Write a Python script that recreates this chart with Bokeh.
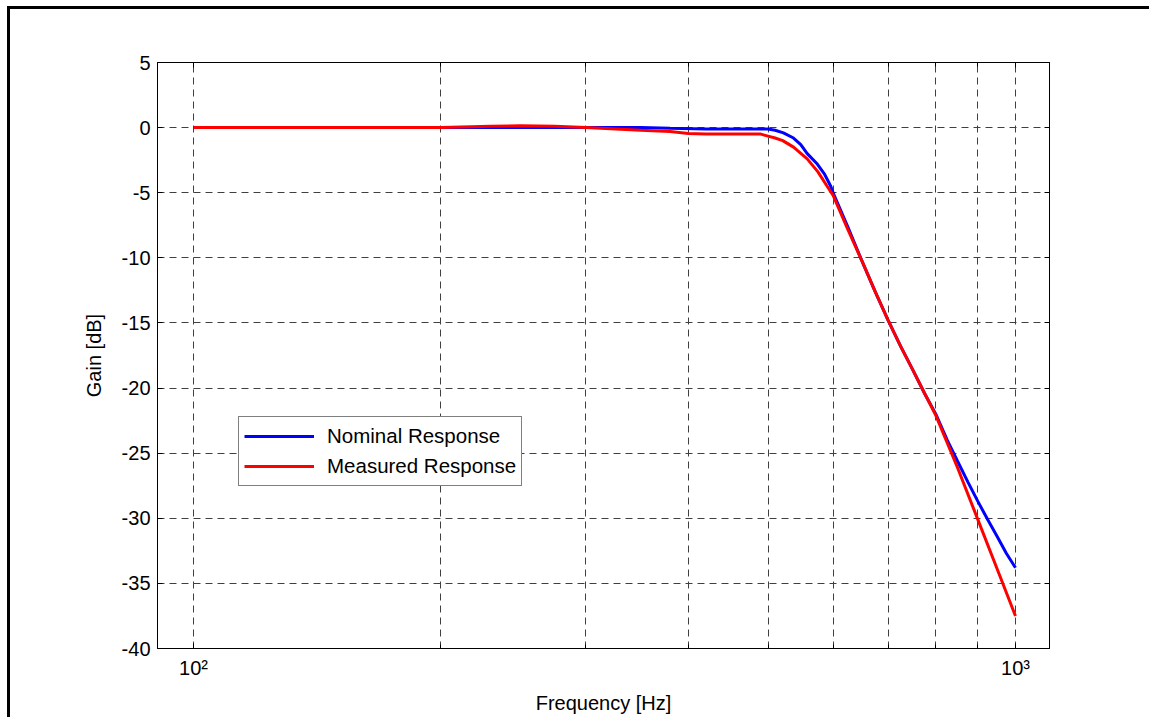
from bokeh.plotting import figure
from bokeh.models import FixedTicker, LogAxis, LinearAxis, Legend, LegendItem
from bokeh.embed import file_html
from bokeh.resources import INLINE

# ---- data ----
nominal_freq = [100, 150, 200, 250, 300, 350, 380, 420, 460, 500, 510, 522, 537,
                548, 558, 574, 586, 596, 600, 625, 650, 675, 700, 725, 750, 775,
                800, 826, 850, 875, 900, 925, 950, 975, 1000]
nominal_gain = [0.0, 0.0, 0.0, 0.0, 0.0, 0.0, -0.05, -0.1, -0.1, -0.1, -0.2, -0.4, -0.8,
                -1.3, -2.0, -2.8, -3.6, -4.5, -5.0, -7.6, -10.2, -12.6, -14.8, -16.8, -18.6, -20.4,
                -22.0, -24.0, -25.6, -27.2, -28.7, -30.1, -31.4, -32.7, -33.8]

measured_freq = [100, 150, 200, 230, 250, 275, 300, 350, 380, 400, 420, 460, 490, 500,
                 510, 521, 537, 558, 575, 590, 600, 625, 650, 675, 700, 725, 750, 775,
                 800, 850, 900, 950, 1000]
measured_gain = [0.0, 0.0, 0.0, 0.1, 0.15, 0.1, 0.0, -0.2, -0.3, -0.45, -0.5, -0.5, -0.5, -0.65,
                 -0.8, -1.0, -1.5, -2.4, -3.4, -4.5, -5.2, -7.8, -10.2, -12.6, -14.8, -16.8, -18.6, -20.4,
                 -22.1, -26.1, -30.1, -33.9, -37.5]

x_major_ticks = [100, 1000]
x_minor_ticks = [200, 300, 400, 500, 600, 700, 800, 900]
x_tick_labels = {100: "10²", 1000: "10³"}
y_ticks = [-40, -35, -30, -25, -20, -15, -10, -5, 0, 5]
y_tick_labels = {v: str(v) for v in y_ticks}

FONT = "Liberation Sans"
FS = "20px"

W, H = 1149, 717
p = figure(width=W, height=H, x_axis_type="log",
           x_range=(90.4, 1100), y_range=(-40, 5),
           output_backend="svg", toolbar_location=None,
           min_border_left=157, min_border_top=62, min_border_right=100, min_border_bottom=69)

p.background_fill_color = "white"
p.border_fill_color = None
p.outline_line_color = "black"
p.outline_line_width = 1
# outer figure border (only top/left edges fall inside the window)
p.styles = {"background": "linear-gradient(#000, #000) 7px 6px / 3px 100% no-repeat, "
                          "linear-gradient(#000, #000) 7px 6px / 100% 3px no-repeat, #fff"}

xt = FixedTicker(ticks=x_major_ticks, minor_ticks=x_minor_ticks)
yt = FixedTicker(ticks=y_ticks)

def style_axis(ax):
    ax.axis_line_color = "black"
    ax.axis_line_width = 1
    ax.major_tick_in = 5
    ax.major_tick_out = 0
    ax.minor_tick_in = 4
    ax.minor_tick_out = 0
    ax.major_tick_line_color = "black"
    ax.minor_tick_line_color = "black"
    ax.major_label_text_font = FONT
    ax.major_label_text_font_size = FS
    ax.major_label_text_color = "black"
    ax.axis_label_text_font = FONT
    ax.axis_label_text_font_size = FS
    ax.axis_label_text_font_style = "normal"
    ax.axis_label_text_color = "black"

xa = p.xaxis[0]
xa.ticker = xt
xa.major_label_overrides = x_tick_labels
xa.axis_label = "Frequency [Hz]"
xa.major_label_standoff = 8
xa.axis_label_standoff = 10
style_axis(xa)

ya = p.yaxis[0]
ya.ticker = yt
ya.major_label_overrides = y_tick_labels
ya.axis_label = "Gain [dB]"
ya.major_label_standoff = 7
ya.axis_label_standoff = 14
style_axis(ya)

top = LogAxis(ticker=xt)
style_axis(top)
top.major_label_overrides = {100: "", 1000: ""}
p.add_layout(top, "above")
right = LinearAxis(ticker=yt)
style_axis(right)
right.major_label_overrides = {v: "" for v in y_ticks}
p.add_layout(right, "right")

for g, t in ((p.xgrid[0], xt), (p.ygrid[0], yt)):
    g.ticker = t
    g.grid_line_color = "#404040"
    g.grid_line_dash = "7 5"
    g.grid_line_width = 1
p.xgrid[0].minor_grid_line_color = "#404040"
p.xgrid[0].minor_grid_line_dash = "7 5"
p.xgrid[0].minor_grid_line_width = 1

r_nom = p.line(nominal_freq, nominal_gain, line_color="#0000ff", line_width=3)
r_mea = p.line(measured_freq, measured_gain, line_color="#ff0000", line_width=3)

legend = Legend(items=[LegendItem(label="Nominal Response", renderers=[r_nom]),
                       LegendItem(label="Measured Response", renderers=[r_mea])],
                location=(81, 162))
legend.border_line_color = "black"
legend.border_line_width = 1
legend.background_fill_color = "white"
legend.background_fill_alpha = 1
legend.label_text_font = FONT
legend.label_text_font_size = "20.5px"
legend.label_text_color = "black"
legend.padding = 5
legend.spacing = 2
legend.glyph_height = 28
legend.label_height = 28
legend.glyph_width = 70
legend.label_standoff = 13
legend.margin = 0
p.add_layout(legend, "center")

open("out.html", "w").write(file_html(p, INLINE))
